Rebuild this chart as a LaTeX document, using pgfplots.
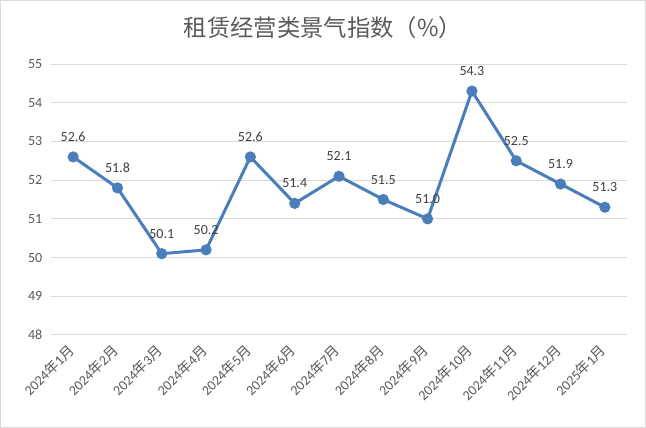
\documentclass[border=0pt]{standalone}
\usepackage{fontspec}
\setmainfont{Carlito}
\newfontfamily\cjk{Noto Sans CJK SC}
\usepackage{pgfplots}
\pgfplotsset{compat=1.18}
\definecolor{lineblue}{RGB}{74,126,187}
\definecolor{txtgray}{RGB}{89,89,89}
\definecolor{gridgray}{RGB}{217,217,217}
\newcommand{\ym}[2]{#1{\cjk 年}#2{\cjk 月}}
\begin{document}
\begin{tikzpicture}
\draw[gridgray, line width=0.75pt, fill=white] (0.375pt,0.375pt) rectangle (484.125pt,320.625pt);
\node[txtgray, font=\cjk\fontsize{17.5}{20}\selectfont] at (242.25pt,300pt) {租赁经营类景气指数（\%）};
\begin{axis}[at={(38.25pt,69.75pt)}, anchor=south west, scale only axis,
  width=432pt, height=203.25pt,
  xmin=-0.5, xmax=12.5, ymin=48, ymax=55, ytick={48,...,55},
  xtick={0,...,12},
  xticklabels={\ym{2024}{1},\ym{2024}{2},\ym{2024}{3},\ym{2024}{4},\ym{2024}{5},\ym{2024}{6},\ym{2024}{7},\ym{2024}{8},\ym{2024}{9},\ym{2024}{10},\ym{2024}{11},\ym{2024}{12},\ym{2025}{1}},
  x tick label style={rotate=45, anchor=east, font=\fontsize{10.5}{12}\selectfont, text=txtgray, xshift=-4.5pt, yshift=-6pt},
  y tick label style={font=\fontsize{10.5}{12}\selectfont, text=txtgray, xshift=-3pt},
  /pgf/number format/assume math mode=true,
  major x tick style={draw=none},
  ytick style={draw=none},
  extra x ticks={-0.5,0.5,...,12.5}, extra x tick labels={},
  extra x tick style={tick align=outside, major tick length=4pt, tick style={draw=gridgray, line width=0.75pt}, xmajorgrids=false},
  axis x line*=bottom, axis y line*=left,
  x axis line style={draw=gridgray, line width=0.75pt, -},
  y axis line style={draw=none},
  ymajorgrids, grid style={draw=gridgray, line width=0.75pt},
  clip=false,
  point meta=explicit symbolic,
  nodes near coords,
  every node near coord/.append style={font=\fontsize{10.5}{12}\selectfont, text=black!75, yshift=7pt},
]
\addplot[lineblue, line width=2.25pt, mark=*, mark size=3pt, mark options={fill=lineblue, draw=lineblue}] table[meta=l] {
x y l
0 52.6 52.6
1 51.8 51.8
2 50.1 50.1
3 50.2 50.2
4 52.6 52.6
5 51.4 51.4
6 52.1 52.1
7 51.5 51.5
8 51.0 51.0
9 54.3 54.3
10 52.5 52.5
11 51.9 51.9
12 51.3 51.3
};
\end{axis}
\end{tikzpicture}
\end{document}
